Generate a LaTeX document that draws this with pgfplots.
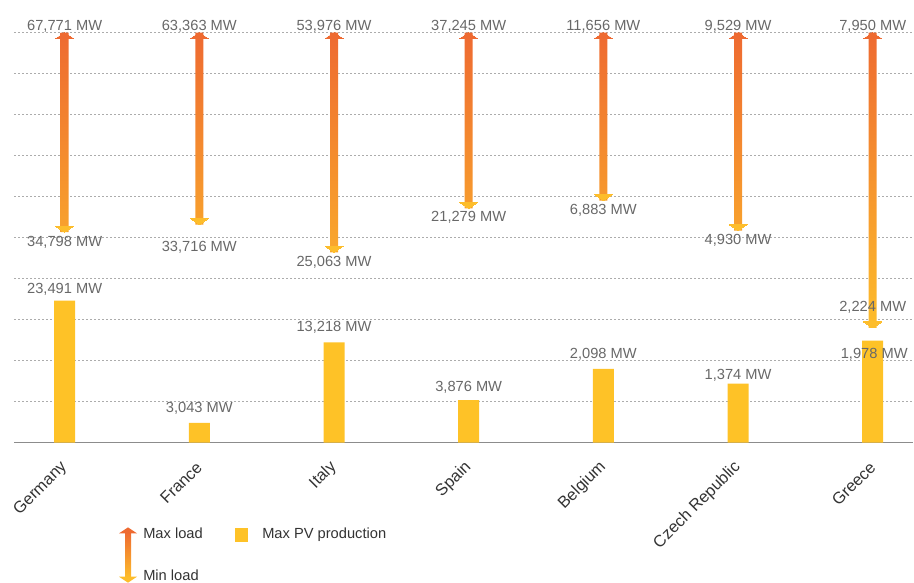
\documentclass[border=0pt]{standalone}
\usepackage{pgfplots}
\pgfplotsset{compat=1.18}
\usepackage{pgfplotstable}
\usepackage{fontspec}
\setmainfont{Liberation Sans}
\definecolor{topc}{HTML}{EE6A31}
\definecolor{botc}{HTML}{FDBD2B}
\definecolor{barc}{HTML}{FEC227}
\definecolor{labc}{HTML}{686868}
\definecolor{tickc}{HTML}{333333}
\definecolor{gridc}{HTML}{ACACAC}
\definecolor{axisc}{HTML}{8C8C8C}
\newcommand\lf{\fontsize{11pt}{13pt}\selectfont}
\newcommand\tf{\fontsize{12.3pt}{14pt}\selectfont}

\pgfplotstableread{
x max min pv dmin dpv dx
0 67771 34798 23491 -13.4 5.5 0
1 63363 33716 3043 -22.9 7.9 0
2 53976 25063 13218 -14.0 8.1 0
3 37245 21279 3876 -13.1 6.4 0
4 11656 6883 2098 -13.8 7.8 0
5 9529 4930 1374 -13.8 3.1 0
6 7950 2224 1978 9.0 -13.2 1.1
}\datatable

\pgfplotsset{
  base/.style={
    at={(0pt,0pt)}, anchor=south west,
    width=674.25pt, height=307.5pt, scale only axis,
    xmin=-0.376, xmax=6.299, ymin=0, ymax=1,
    clip=false,
  },
  mwlabel/.style={
    nodes near coords={\pgfmathprintnumber[fixed,precision=0,1000 sep={,},assume math mode=true]{\pgfplotspointmeta} MW},
  },
}

\begin{document}
\begin{tikzpicture}
\path[use as bounding box] (-10.5pt,-105.2pt) rectangle (675pt,332pt);

% grid, axis line, tick labels, PV bars
\begin{axis}[base,
  axis line style={draw=none},
  xtick={0,1,2,3,4,5,6},
  xticklabels={Germany,France,Italy,Spain,Belgium,Czech Republic,Greece},
  xtick style={draw=none},
  xticklabel style={yshift=-16.5pt, rotate=45, anchor=east, inner sep=0pt, font=\tf, text=tickc},
  ytick={0.1,0.2,0.3,0.4,0.5,0.6,0.7,0.8,0.9,1.0},
  yticklabels={},
  ytick style={draw=none},
  ymajorgrids,
  major grid style={draw=gridc, line width=0.75pt, dash pattern=on 1.4pt off 1.6pt},
  extra y ticks={0},
  extra y tick labels={},
  extra y tick style={grid=major, major grid style={draw=axisc, line width=1pt, solid}},
]
\addplot[ybar, bar width=15.75pt, fill=barc, draw=none,
  point meta=\thisrow{pv}, mwlabel,
  visualization depends on={\thisrow{dpv} \as \dpv},
  visualization depends on={\thisrow{dx} \as \dxx},
  every node near coord/.append style={anchor=base, yshift=\dpv, xshift=\dxx, font=\lf, text=labc, inner sep=0pt},
] table[x=x, y expr=\thisrow{pv}/\thisrow{max}] {\datatable};
\end{axis}

% arrow shafts (floating, shaded)
\begin{axis}[base, hide axis, ybar stacked, bar width=6pt]
\addplot[draw=none, fill=none] table[x=x, y expr=\thisrow{min}/\thisrow{max}] {\datatable};
\addplot[draw=none, top color=topc, bottom color=botc] table[x=x, y expr=1-\thisrow{min}/\thisrow{max}] {\datatable};
\end{axis}

% arrow heads and load labels
\begin{axis}[base, hide axis]
\addplot[only marks, mark=triangle*, mark size=7.794pt,
  mark options={yshift=-3pt, yscale=0.385, fill=topc, draw=topc, line width=0pt},
  point meta=\thisrow{max}, mwlabel,
  every node near coord/.append style={anchor=base, yshift=4.5pt, font=\lf, text=labc, inner sep=0pt},
] table[x=x, y expr=1] {\datatable};
\addplot[only marks, mark=triangle*, mark size=7.794pt,
  mark options={yshift=3pt, yscale=-0.385, fill=botc, draw=botc, line width=0pt},
  point meta=\thisrow{min}, mwlabel,
  visualization depends on={\thisrow{dmin} \as \dmin},
  every node near coord/.append style={anchor=base, yshift=\dmin, font=\lf, text=labc, inner sep=0pt},
] table[x=x, y expr=\thisrow{min}/\thisrow{max}] {\datatable};
\end{axis}

% legend
\shade[top color=topc, bottom color=botc] (83.25pt,-67pt) rectangle (87.75pt,-101.5pt);
\fill[topc] (78.75pt,-68pt) -- (92.25pt,-68pt) -- (85.5pt,-63.5pt) -- cycle;
\fill[botc] (78.75pt,-100.5pt) -- (92.25pt,-100.5pt) -- (85.5pt,-105pt) -- cycle;
\node[anchor=base west, inner sep=0pt, font=\lf, text=tickc] at (96.75pt,-72.2pt) {Max load};
\node[anchor=base west, inner sep=0pt, font=\lf, text=tickc] at (96.75pt,-103pt) {Min load};
\fill[barc] (165.75pt,-64pt) rectangle (175.5pt,-74.5pt);
\node[anchor=base west, inner sep=0pt, font=\lf, text=tickc] at (186pt,-72.2pt) {Max PV production};
\end{tikzpicture}
\end{document}
